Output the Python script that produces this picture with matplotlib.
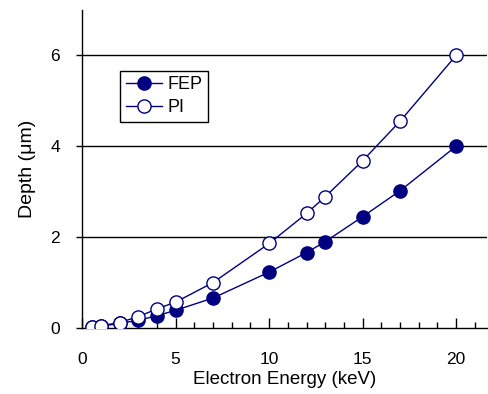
import matplotlib
matplotlib.use("Agg")
import matplotlib.pyplot as plt
from matplotlib.ticker import MultipleLocator

energy = [0.5, 1, 2, 3, 4, 5, 7, 10, 12, 13, 15, 17, 20]
depth_fep = [0.02, 0.04, 0.10, 0.17, 0.27, 0.39, 0.66, 1.23, 1.66, 1.90, 2.45, 3.02, 4.00]
depth_pi = [0.03, 0.05, 0.12, 0.25, 0.42, 0.57, 1.00, 1.86, 2.52, 2.89, 3.68, 4.55, 6.00]

plt.rcParams['font.family'] = ['Liberation Sans', 'DejaVu Sans']
navy = '#000080'

fig = plt.figure(figsize=(4.89, 3.94), dpi=100)
ax = fig.add_axes([0.168, 0.1675, 0.828, 0.8075])

for y in [2, 4, 6]:
    ax.axhline(y, color='black', lw=1.0, zorder=1)

ax.plot(energy, depth_fep, '-o', color=navy, lw=1.0, ms=9.5,
        mfc=navy, mec=navy, mew=1.0, label='FEP', zorder=3)
ax.plot(energy, depth_pi, '-o', color=navy, lw=1.0, ms=9.5,
        mfc='white', mec=navy, mew=1.0, label='PI', zorder=3)

ax.set_xlim(0, 21.65)
ax.set_ylim(0, 7.0)
ax.xaxis.set_major_locator(MultipleLocator(5))
ax.xaxis.set_minor_locator(MultipleLocator(1))
ax.yaxis.set_major_locator(MultipleLocator(2))
ax.tick_params(axis='x', which='major', direction='in', length=7, width=1, labelsize=12.5, pad=17)
ax.tick_params(axis='x', which='minor', direction='in', length=4, width=1)
ax.tick_params(axis='y', which='major', direction='out', length=4, width=1, labelsize=12.5, pad=12)

for s in ['top', 'right']:
    ax.spines[s].set_visible(False)
for s in ['left', 'bottom']:
    ax.spines[s].set_linewidth(1.0)
    ax.spines[s].set_color('black')

ax.set_xlabel('Electron Energy (keV)', fontsize=13.5, labelpad=3)
ax.set_ylabel('Depth (\u03bcm)', fontsize=14, labelpad=10)

leg = ax.legend(loc='upper left', bbox_to_anchor=(0.072, 0.837), fontsize=13,
                frameon=True, fancybox=False, edgecolor='black', framealpha=1,
                handlelength=2.0, handletextpad=0.3, borderpad=0.3, labelspacing=0.35)
leg.get_frame().set_linewidth(1.0)

fig.savefig('out.png', dpi=100)
